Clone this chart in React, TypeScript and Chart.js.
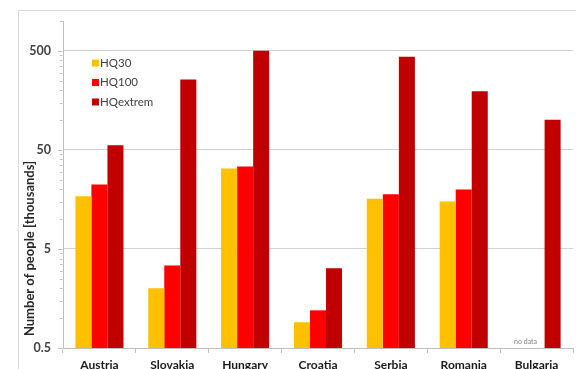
import React, { useEffect, useRef } from "react";
import { Chart, registerables } from "chart.js";

Chart.register(...registerables);

// Countries along the x axis
const countries = ["Austria", "Slovakia", "Hungary", "Croatia", "Serbia", "Romania", "Bulgaria"];

// People affected (thousands) per flood scenario
const hq30 = [17, 2.0, 32.5, 0.91, 16.1, 15.1, null];
const hq100 = [22.4, 3.4, 34, 1.2, 17.8, 19.9, null];
const hqExtrem = [55.6, 256, 500, 3.2, 435, 195, 101];

// Labelled y ticks and the axis range
const majorTicks = [0.5, 5, 50, 500];
const minorTicks = [
  1, 1.5, 2, 2.5, 3, 3.5, 4, 4.5,
  10, 15, 20, 25, 30, 35, 40, 45,
  100, 150, 200, 250, 300, 350, 400, 450,
  1000,
];
const yMin = 0.5;
const yMax = 1000;

const seriesNames = ["HQ30", "HQ100", "HQextrem"];
const seriesColors = ["#FFC000", "#FF0000", "#C00000"];

const yTitle = "Number of people [thousands]";
const noDataLabel = "no data";

const FONT = "Lato, 'Open Sans', sans-serif";

export default function App() {
  const canvasRef = useRef<HTMLCanvasElement | null>(null);

  useEffect(() => {
    document.body.style.margin = "0";
    const canvas = canvasRef.current;
    if (!canvas) return;

    const decorations = {
      id: "decorations",
      beforeDraw(chart: any) {
        const { ctx } = chart;
        ctx.save();
        ctx.fillStyle = "#ffffff";
        ctx.fillRect(0, 0, chart.width, chart.height);
        // outer frame
        ctx.strokeStyle = "#d9d9d9";
        ctx.lineWidth = 1;
        ctx.beginPath();
        ctx.moveTo(18.5, chart.height + 2);
        ctx.lineTo(18.5, 10.5);
        ctx.lineTo(chart.width + 2, 10.5);
        ctx.stroke();
        ctx.restore();
      },
      afterDraw(chart: any) {
        const { ctx, chartArea } = chart;
        const y = chart.scales.y;
        const x = chart.scales.x;
        ctx.save();
        // y tick marks
        ctx.strokeStyle = "#bfbfbf";
        ctx.lineWidth = 1;
        const ax = Math.round(chartArea.left) - 0.5;
        minorTicks.forEach((v) => {
          const py = Math.round(y.getPixelForValue(v)) + 0.5;
          ctx.beginPath();
          ctx.moveTo(ax - 2.5, py);
          ctx.lineTo(ax, py);
          ctx.stroke();
        });
        majorTicks.forEach((v) => {
          const py = Math.round(y.getPixelForValue(v)) + 0.5;
          ctx.beginPath();
          ctx.moveTo(ax - 4.5, py);
          ctx.lineTo(ax, py);
          ctx.stroke();
        });

        // y axis title
        ctx.save();
        ctx.translate(30, 248.5);
        ctx.rotate(-Math.PI / 2);
        ctx.font = `bold 13px ${FONT}`;
        ctx.fillStyle = "#262626";
        ctx.textAlign = "center";
        ctx.textBaseline = "middle";
        ctx.fillText(yTitle, 0, 0);
        ctx.restore();

        // legend inside plot
        ctx.font = `11.5px ${FONT}`;
        ctx.textBaseline = "middle";
        ctx.textAlign = "left";
        seriesNames.forEach((name, i) => {
          const cy = chartArea.top + 42 + i * 19.5;
          ctx.fillStyle = seriesColors[i];
          ctx.fillRect(chartArea.left + 29, cy - 3.5, 7, 7);
          ctx.fillStyle = "#404040";
          ctx.fillText(name, chartArea.left + 37, cy);
        });

        // missing-data note
        const bx = x.getPixelForValue(countries.length - 1);
        ctx.font = `7px ${FONT}`;
        ctx.fillStyle = "#7f7f7f";
        ctx.textAlign = "center";
        ctx.fillText(noDataLabel, bx - 11, chartArea.bottom - 6);
        ctx.restore();
      },
    };

    const chart = new Chart(canvas, {
      type: "bar",
      data: {
        labels: countries,
        datasets: [hq30, hq100, hqExtrem].map((d, i) => ({
          label: seriesNames[i],
          data: d,
          backgroundColor: seriesColors[i],
          borderWidth: 0,
          barPercentage: 1,
          categoryPercentage: 0.66,
        })),
      },
      options: {
        responsive: false,
        animation: false,
        devicePixelRatio: 1,
        layout: { padding: { left: 22, right: 3, top: 21, bottom: 0 } },
        plugins: {
          legend: { display: false },
          tooltip: { enabled: false },
        },
        scales: {
          x: {
            offset: true,
            grid: {
              offset: true,
              drawOnChartArea: false,
              drawTicks: true,
              tickLength: 5,
              color: "#bfbfbf",
            },
            border: { color: "#bfbfbf" },
            ticks: {
              padding: 5,
              color: "#1a1a1a",
              font: { family: FONT, size: 12, weight: "bold" },
              maxRotation: 0,
              autoSkip: false,
            },
            afterFit(scale: any) {
              scale.height = 21;
            },
          },
          y: {
            type: "logarithmic",
            min: yMin,
            max: yMax,
            grid: {
              drawTicks: false,
              color: "#d0d0d0",
            },
            border: { color: "#bfbfbf" },
            afterBuildTicks(scale: any) {
              scale.ticks = majorTicks.map((v) => ({ value: v }));
            },
            ticks: {
              padding: 12,
              color: "#404040",
              font: { family: FONT, size: 12.5, weight: "bold" },
              callback: (v: any) => String(v),
            },
            afterFit(scale: any) {
              scale.width = 41;
            },
          },
        },
      },
      plugins: [decorations],
    } as any);

    return () => chart.destroy();
  }, []);

  return (
    <div style={{ width: 576, height: 369, overflow: "hidden" }}>
      <canvas ref={canvasRef} width={576} height={369} style={{ display: "block" }} />
    </div>
  );
}
